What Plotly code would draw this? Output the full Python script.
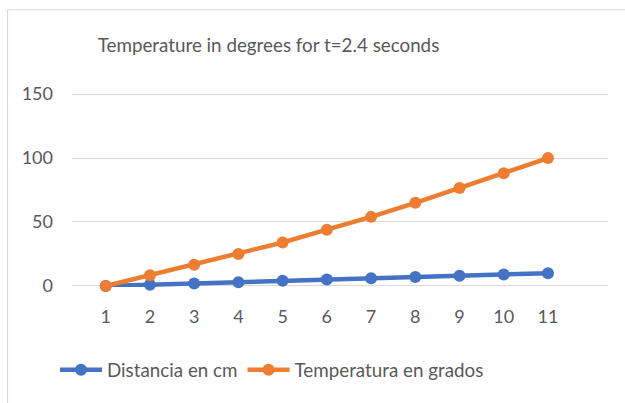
import plotly.graph_objects as go

categories = [1, 2, 3, 4, 5, 6, 7, 8, 9, 10, 11]
distancia = [0, 1, 2, 3, 4, 5, 6, 7, 8, 9, 10]
temperatura = [0, 8.3, 16.5, 25, 34, 44, 54, 65, 76.5, 88, 100]
y_ticks = [0, 50, 100, 150]

FONT = "Lato"
TXT = "#595959"
GRID = "#d9d9d9"

W, H = 625, 403
L, R, T, B = 72, 17, 93.5, 117.3
pw = W - L - R
ph = H - T - B

fig = go.Figure()
fig.add_trace(go.Scatter(x=categories, y=distancia, mode="lines+markers",
                         name="Distancia en cm",
                         line=dict(color="#4472C4", width=4.5),
                         marker=dict(color="#4472C4", size=12),
                         cliponaxis=False))
fig.add_trace(go.Scatter(x=categories, y=temperatura, mode="lines+markers",
                         name="Temperatura en grados",
                         line=dict(color="#ED7D31", width=4.5),
                         marker=dict(color="#ED7D31", size=12),
                         cliponaxis=False))


def px_x(p):
    return (p - L) / pw


def px_y(p):
    return (H - B - p) / ph


# chart border (Excel chart area)
fig.add_shape(type="rect", xref="paper", yref="paper",
              x0=px_x(7.5), x1=px_x(640), y0=px_y(420), y1=px_y(11),
              line=dict(color=GRID, width=1.2), fillcolor="rgba(0,0,0,0)", layer="below")

fig.update_layout(
    width=W, height=H,
    margin=dict(l=L, r=R, t=T - 1, b=B - 1),
    paper_bgcolor="white", plot_bgcolor="white",
    font=dict(family=FONT, color=TXT, size=17),
    title=dict(text="Temperature in degrees for t=2.4 seconds",
               x=268.5 / W, xanchor="center", xref="container",
               y=1 - 45 / H, yanchor="middle", yref="container",
               font=dict(family=FONT, size=18.8, color=TXT)),
    showlegend=True,
    legend=dict(orientation="h", x=px_x(272), xanchor="center",
                y=px_y(368), yanchor="middle",
                font=dict(family=FONT, size=18.8, color=TXT),
                itemwidth=42, traceorder="normal"),
    xaxis=dict(tickmode="array", tickvals=categories,
               ticktext=[str(c) for c in categories],
               range=[1 - (105.7 - 72) / 44.2, 11 + (608 - 548) / 44.2],
               showgrid=False, zeroline=False, showline=False,
               ticks="", ticklabelstandoff=17,
               tickfont=dict(family=FONT, size=18, color=TXT)),
    yaxis=dict(tickmode="array", tickvals=y_ticks, range=[-0.8, 150.8],
               showgrid=True, gridcolor=GRID, gridwidth=1.3,
               zeroline=False, showline=False, ticks="",
               ticklabelstandoff=18,
               tickfont=dict(family=FONT, size=18, color=TXT)),
)

fig.write_html("out.html")
